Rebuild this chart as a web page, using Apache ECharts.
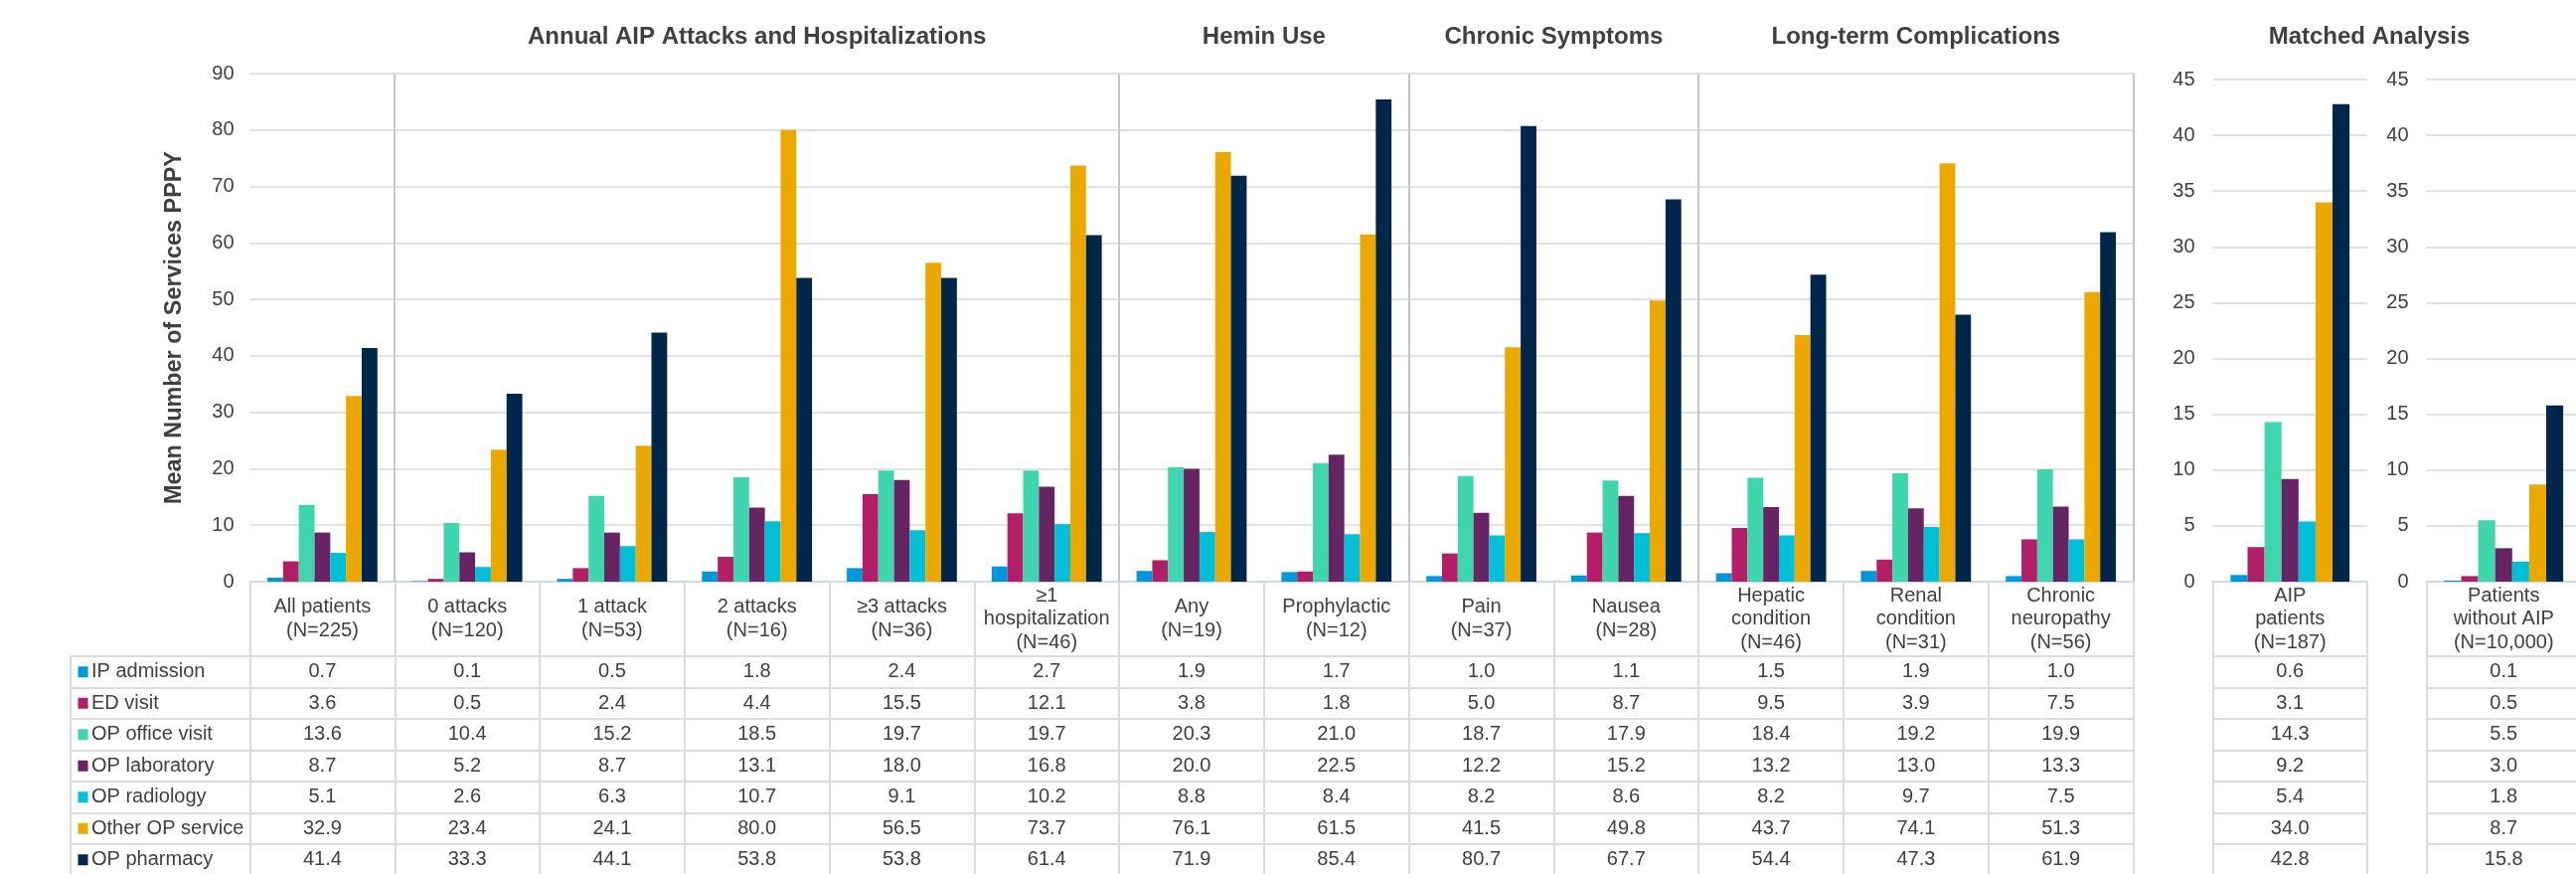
<!DOCTYPE html>
<html>
<head>
<meta charset="utf-8">
<script src="https://cdn.jsdelivr.net/npm/echarts@6/dist/echarts.min.js"></script>
<style>
  html, body { margin: 0; padding: 0; background: #ffffff; }
  #chart { width: 2592px; height: 879px; }
</style>
</head>
<body>
<div id="chart"></div>
<script>
// ---- Data -----------------------------------------------------------------
const categories = [
  'All patients\n(N=225)',
  '0 attacks\n(N=120)',
  '1 attack\n(N=53)',
  '2 attacks\n(N=16)',
  '≥3 attacks\n(N=36)',
  '≥1\nhospitalization\n(N=46)',
  'Any\n(N=19)',
  'Prophylactic\n(N=12)',
  'Pain\n(N=37)',
  'Nausea\n(N=28)',
  'Hepatic\ncondition\n(N=46)',
  'Renal\ncondition\n(N=31)',
  'Chronic\nneuropathy\n(N=56)'
];
const matchedCategoryAip = ['AIP\npatients\n(N=187)'];
const matchedCategoryNoAip = ['Patients\nwithout AIP\n(N=10,000)'];

const seriesNames = ['IP admission', 'ED visit', 'OP office visit', 'OP laboratory',
  'OP radiology', 'Other OP service', 'OP pharmacy'];
const seriesColors = ['#0098db', '#b21f66', '#3fd6ae', '#662462', '#00bfd6', '#eba900', '#00264a'];

const ipAdmission    = [0.7, 0.1, 0.5, 1.8, 2.4, 2.7, 1.9, 1.7, 1.0, 1.1, 1.5, 1.9, 1.0];
const edVisit        = [3.6, 0.5, 2.4, 4.4, 15.5, 12.1, 3.8, 1.8, 5.0, 8.7, 9.5, 3.9, 7.5];
const opOfficeVisit  = [13.6, 10.4, 15.2, 18.5, 19.7, 19.7, 20.3, 21.0, 18.7, 17.9, 18.4, 19.2, 19.9];
const opLaboratory   = [8.7, 5.2, 8.7, 13.1, 18.0, 16.8, 20.0, 22.5, 12.2, 15.2, 13.2, 13.0, 13.3];
const opRadiology    = [5.1, 2.6, 6.3, 10.7, 9.1, 10.2, 8.8, 8.4, 8.2, 8.6, 8.2, 9.7, 7.5];
const otherOpService = [32.9, 23.4, 24.1, 80.0, 56.5, 73.7, 76.1, 61.5, 41.5, 49.8, 43.7, 74.1, 51.3];
const opPharmacy     = [41.4, 33.3, 44.1, 53.8, 53.8, 61.4, 71.9, 85.4, 80.7, 67.7, 54.4, 47.3, 61.9];

// Matched analysis, one value per service type (same order as seriesNames)
const matchedAip   = [0.6, 3.1, 14.3, 9.2, 5.4, 34.0, 42.8];
const matchedNoAip = [0.1, 0.5, 5.5, 3.0, 1.8, 8.7, 15.8];

const mainTicks = { min: 0, max: 90, interval: 10 };
const matchedTicks = { min: 0, max: 45, interval: 5 };

const sections = [
  { title: 'Annual AIP Attacks and Hospitalizations', first: 1, last: 5 },
  { title: 'Hemin Use', first: 6, last: 7 },
  { title: 'Chronic Symptoms', first: 8, last: 9 },
  { title: 'Long-term Complications', first: 10, last: 12 }
];
const matchedTitle = 'Matched Analysis';
const yAxisTitle = 'Mean Number of Services PPPY';

const mainValues = [ipAdmission, edVisit, opOfficeVisit, opLaboratory, opRadiology, otherOpService, opPharmacy];

// ---- Layout & style -------------------------------------------------------
const FONT = "'Liberation Sans', Arial, Helvetica, sans-serif";
const TEXT = '#404040';
const BORDER = '#dcdcdc';
const GRIDLINE = '#e2e2e2';
const SEPARATOR = '#c6c6c6';
const AXISLINE = '#d3d9e2';

const plotBottom = 585;
const headerHeight = 75;
const tableTop = plotBottom + headerHeight;
const tableHeight = 220.5;

const mainBox = { left: 251.5, top: 74, width: 1895, height: plotBottom - 74 };
const aipBox = { left: 2226.5, top: 80, width: 155.5, height: plotBottom - 80 };
const noAipBox = { left: 2441.5, top: 80, width: 155.5, height: plotBottom - 80 };
const legendBox = { left: 70.5, width: 181 };

function grid(box, top, height) {
  return { left: box.left, top: top, width: box.width, height: height,
    containLabel: false, outerBoundsMode: 'none' };
}

function headerAxis(gridIndex, data) {
  return {
    type: 'category', gridIndex: gridIndex, data: data,
    axisLine: { show: true, lineStyle: { color: AXISLINE, width: 2 } },
    axisTick: { show: true, interval: 0, length: headerHeight, lineStyle: { color: BORDER, width: 2 } },
    axisLabel: { interval: 0, color: TEXT, fontSize: 20, fontFamily: FONT, lineHeight: 23.5,
      margin: headerHeight / 2, verticalAlign: 'middle', align: 'center' },
    splitLine: { show: false }
  };
}

function valueAxis(gridIndex, ticks, margin, extra) {
  return Object.assign({
    type: 'value', gridIndex: gridIndex, min: ticks.min, max: ticks.max, interval: ticks.interval,
    axisLine: { show: false }, axisTick: { show: false },
    axisLabel: { color: TEXT, fontSize: 20, fontFamily: FONT, margin: margin },
    splitLine: { show: true, lineStyle: { color: GRIDLINE, width: 2 } }
  }, extra || {});
}

function tableXAxis(gridIndex, data) {
  return {
    type: 'category', gridIndex: gridIndex, data: data,
    axisLine: { show: false }, axisTick: { show: false }, axisLabel: { show: false },
    splitLine: { show: true, interval: 0, lineStyle: { color: BORDER, width: 2 } }
  };
}

function tableYAxis(gridIndex) {
  return {
    type: 'category', gridIndex: gridIndex, data: seriesNames, inverse: true,
    axisLine: { show: false }, axisTick: { show: false }, axisLabel: { show: false },
    splitLine: { show: true, interval: 0, lineStyle: { color: BORDER, width: 2 } }
  };
}

function barSeries(axisIndex, valuesFor, gap) {
  return seriesNames.map(function (name, i) {
    return {
      type: 'bar', name: name, xAxisIndex: axisIndex, yAxisIndex: axisIndex,
      data: valuesFor(i), barGap: '0%', barCategoryGap: gap,
      itemStyle: { color: seriesColors[i] }, silent: true
    };
  });
}

function cellText(params, api) {
  const p = api.coord([api.value(0), api.value(1)]);
  return {
    type: 'text', x: p[0], y: p[1],
    style: { text: api.value(2).toFixed(1), fill: TEXT, fontSize: 20, fontFamily: FONT,
      align: 'center', verticalAlign: 'middle' }
  };
}

function tableSeries(axisIndex, rows) {
  // rows: array (per service type) of arrays (per column)
  const data = [];
  rows.forEach(function (vals, r) {
    vals.forEach(function (v, c) { data.push([c, r, v]); });
  });
  return { type: 'custom', xAxisIndex: axisIndex, yAxisIndex: axisIndex, data: data,
    renderItem: cellText, silent: true, encode: { x: 0, y: 1 } };
}

// section boundary lines inside the main plot
const boundaries = sections.map(function (s) { return [s.first, 0, -0.5]; });
boundaries.push([sections[sections.length - 1].last, 0, 0.5]);

const chart = echarts.init(document.getElementById('chart'), null, { renderer: 'canvas' });

const bw = mainBox.width / categories.length;
const titleGraphics = sections.map(function (s) {
  return { type: 'text', x: mainBox.left + bw * (s.first + s.last + 1) / 2, y: 37,
    style: { text: s.title, fill: TEXT, fontSize: 24, fontWeight: 'bold', fontFamily: FONT,
      align: 'center', verticalAlign: 'middle' } };
});
titleGraphics.push({ type: 'text', x: 2384, y: 37,
  style: { text: matchedTitle, fill: TEXT, fontSize: 24, fontWeight: 'bold', fontFamily: FONT,
    align: 'center', verticalAlign: 'middle' } });

chart.setOption({
  animation: false,
  backgroundColor: '#ffffff',
  textStyle: { fontFamily: FONT },
  graphic: titleGraphics,
  grid: [
    grid(mainBox, mainBox.top, mainBox.height),
    grid(aipBox, aipBox.top, aipBox.height),
    grid(noAipBox, noAipBox.top, noAipBox.height),
    grid(mainBox, tableTop, tableHeight),
    grid(aipBox, tableTop, tableHeight),
    grid(noAipBox, tableTop, tableHeight),
    grid(legendBox, tableTop, tableHeight)
  ],
  xAxis: [
    headerAxis(0, categories),
    headerAxis(1, matchedCategoryAip),
    headerAxis(2, matchedCategoryNoAip),
    tableXAxis(3, categories),
    tableXAxis(4, matchedCategoryAip),
    tableXAxis(5, matchedCategoryNoAip),
    tableXAxis(6, [''])
  ],
  yAxis: [
    valueAxis(0, mainTicks, 16, {
      name: yAxisTitle, nameLocation: 'middle', nameGap: 64.5, nameRotate: 90,
      nameTextStyle: { color: TEXT, fontSize: 23.4, fontWeight: 'bold', fontFamily: FONT }
    }),
    valueAxis(1, matchedTicks, 18),
    valueAxis(2, matchedTicks, 18),
    tableYAxis(3),
    tableYAxis(4),
    tableYAxis(5),
    tableYAxis(6)
  ],
  series: []
    .concat(barSeries(0, function (i) { return mainValues[i]; }, '24%'))
    .concat(barSeries(1, function (i) { return [matchedAip[i]]; }, '23%'))
    .concat(barSeries(2, function (i) { return [matchedNoAip[i]]; }, '23%'))
    .concat([
      tableSeries(3, mainValues),
      tableSeries(4, matchedAip.map(function (v) { return [v]; })),
      tableSeries(5, matchedNoAip.map(function (v) { return [v]; })),
      {
        // legend column: colour swatch + service name per row
        type: 'custom', xAxisIndex: 6, yAxisIndex: 6, silent: true,
        data: seriesNames.map(function (n, r) { return [0, r]; }),
        encode: { x: 0, y: 1 },
        renderItem: function (params, api) {
          const r = api.value(1);
          const p = api.coord([0, r]);
          const x0 = params.coordSys.x;
          return { type: 'group', children: [
            { type: 'rect', shape: { x: x0 + 8, y: p[1] - 5.5, width: 10, height: 11 },
              style: { fill: seriesColors[r] } },
            { type: 'text', x: x0 + 21.5, y: p[1],
              style: { text: seriesNames[r], fill: TEXT, fontSize: 20, fontFamily: FONT,
                align: 'left', verticalAlign: 'middle' } }
          ] };
        }
      },
      {
        // vertical separators between the cohort groups
        type: 'custom', xAxisIndex: 0, yAxisIndex: 0, silent: true, z: 1,
        data: boundaries, encode: { x: 0, y: 1 },
        renderItem: function (params, api) {
          const c = api.value(0);
          const side = api.value(2);
          const band = api.size([1, 0])[0];
          const x = Math.round(api.coord([c, 0])[0] + side * band);
          const yTop = api.coord([c, mainTicks.max])[1];
          const yBot = api.coord([c, mainTicks.min])[1];
          return { type: 'line', shape: { x1: x, y1: yTop, x2: x, y2: yBot },
            style: { stroke: SEPARATOR, lineWidth: 2 } };
        }
      }
    ])
});
</script>
</body>
</html>
